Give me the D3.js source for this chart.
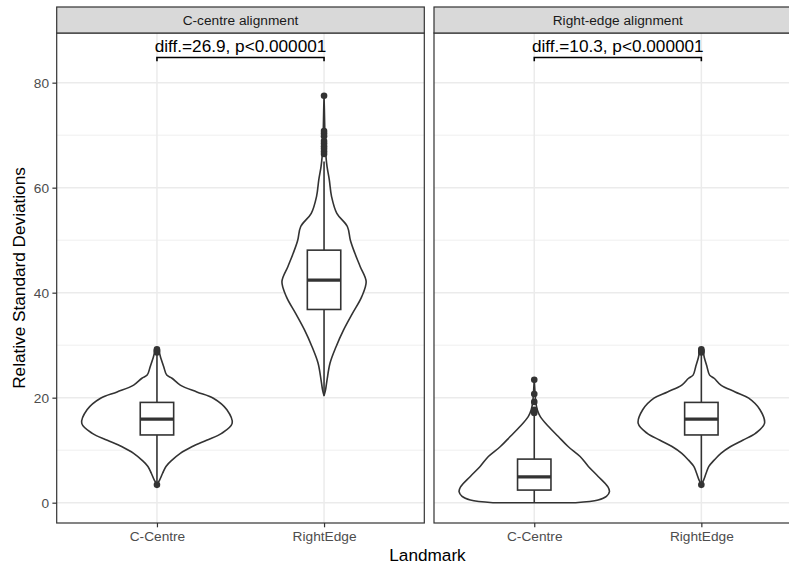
<!DOCTYPE html>
<html>
<head>
<meta charset="utf-8">
<script src="https://cdn.jsdelivr.net/npm/d3@7"></script>
<style>
  html, body { margin: 0; padding: 0; background: #ffffff; }
  svg { display: block; font-family: "Liberation Sans", Arial, Helvetica, sans-serif; }
</style>
</head>
<body>
<svg id="chart" width="789" height="566"></svg>
<script>
// Facet panels and the two landmarks compared inside each
const panelTitles = ["C-centre alignment", "Right-edge alignment"];
const landmarks = ["C-Centre", "RightEdge"];
const yTicks = [0, 20, 40, 60, 80];
const yMinorTicks = [10, 30, 50, 70];
const diffLabels = ["diff.=26.9, p<0.000001", "diff.=10.3, p<0.000001"];
const bracketValue = 84.8;

// Violin outlines: [value, relative density width]
const centreAlignCCentre = [
  [3.5, 0], [4.3, 0.035], [5.6, 0.075], [6.9, 0.12], [8.1, 0.2], [9.4, 0.31], [10.7, 0.47],
  [11.9, 0.66], [13.2, 0.86], [15.1, 1.0], [17.7, 0.93], [19.9, 0.75], [21.1, 0.53],
  [22.4, 0.31], [23.7, 0.2], [24.3, 0.13], [25.9, 0.09], [27.6, 0.05], [28.6, 0.03], [29.2, 0]
];
const centreAlignRightEdge = [
  [20.4, 0], [21.5, 0.02], [23.4, 0.04], [26.6, 0.08], [29.7, 0.16], [32.9, 0.26],
  [36.1, 0.38], [39.2, 0.5], [42.1, 0.56], [45.0, 0.48], [47.5, 0.41], [50.0, 0.35],
  [52.6, 0.31], [55.1, 0.17], [58.3, 0.1], [61.5, 0.07], [64.0, 0.04], [66.0, 0.025],
  [68.5, 0.015], [71.0, 0.01], [74.5, 0.005], [77.5, 0]
];
const rightAlignCCentre = [
  [0, 0.55], [0.5, 0.85], [1.2, 0.96], [2.1, 1.0], [3.0, 0.98], [5.0, 0.85], [6.9, 0.72],
  [8.8, 0.61], [10.7, 0.45], [12.6, 0.32], [14.5, 0.19], [16.4, 0.08], [17.7, 0.04],
  [19.2, 0.02], [21.0, 0.01], [23.4, 0]
];
const rightAlignRightEdge = [
  [3.5, 0], [4.3, 0.03], [5.6, 0.063], [6.9, 0.1], [8.1, 0.17], [9.4, 0.26], [10.7, 0.39],
  [11.9, 0.55], [13.2, 0.72], [15.1, 0.84], [17.7, 0.78], [19.9, 0.63], [21.1, 0.45],
  [22.4, 0.26], [23.7, 0.17], [24.3, 0.11], [25.9, 0.075], [27.6, 0.04], [28.6, 0.025], [29.2, 0]
];

// Box statistics per landmark: [lower whisker, Q1, median, Q3, upper whisker]
const centreAlignBoxes = [[3.8, 12.9, 15.9, 19.1, 28.3], [20.4, 36.8, 42.4, 48.1, 65.0]];
const rightAlignBoxes = [[0, 2.4, 4.9, 8.3, 17.0], [3.8, 12.9, 15.9, 19.1, 28.3]];

// Points beyond the whiskers
const centreAlignOutliers = [
  [3.4, 28.6, 28.8, 29.0, 29.2],
  [66.4, 66.9, 67.4, 67.9, 68.4, 68.9, 69.8, 70.3, 70.8, 77.5]
];
const rightAlignOutliers = [
  [17.1, 17.4, 17.7, 19.2, 20.7, 23.4],
  [3.4, 28.6, 28.8, 29.0, 29.2]
];

const panels = [
  { title: panelTitles[0], violins: [centreAlignCCentre, centreAlignRightEdge], boxes: centreAlignBoxes, outliers: centreAlignOutliers, label: diffLabels[0] },
  { title: panelTitles[1], violins: [rightAlignCCentre, rightAlignRightEdge], boxes: rightAlignBoxes, outliers: rightAlignOutliers, label: diffLabels[1] }
];

// Layout
const svg = d3.select("#chart");
const panelTop = 33, panelBottom = 523, stripTop = 7;
const panelWidth = 367.6;
const panelLefts = [56.7, 434];
const ink = "#333333";
const tickFont = 13.7, titleFont = 17.2;
const lw = 1.6;

const y = d3.scaleLinear().domain([-3.87, 89.46]).range([panelBottom, panelTop]);

panels.forEach((p, i) => {
  const x0 = panelLefts[i];
  const x = d3.scalePoint().domain(landmarks).range([x0, x0 + panelWidth]).padding(0.6);
  const step = x.step();
  const g = svg.append("g");

  // panel background and grid
  g.append("rect").attr("x", x0).attr("y", panelTop).attr("width", panelWidth)
    .attr("height", panelBottom - panelTop).attr("fill", "#ffffff");
  g.selectAll(".minor").data(yMinorTicks).join("line")
    .attr("x1", x0).attr("x2", x0 + panelWidth)
    .attr("y1", d => y(d)).attr("y2", d => y(d))
    .attr("stroke", "#ebebeb").attr("stroke-width", 0.8);
  g.selectAll(".major").data(yTicks).join("line")
    .attr("x1", x0).attr("x2", x0 + panelWidth)
    .attr("y1", d => y(d)).attr("y2", d => y(d))
    .attr("stroke", "#ebebeb").attr("stroke-width", 1.5);
  g.selectAll(".vgrid").data(landmarks).join("line")
    .attr("x1", d => x(d)).attr("x2", d => x(d))
    .attr("y1", panelTop).attr("y2", panelBottom)
    .attr("stroke", "#ebebeb").attr("stroke-width", 1.5);

  // violins
  const maxHalf = 0.45 * step;
  p.violins.forEach((prof, j) => {
    const cx = x(landmarks[j]);
    const area = d3.area()
      .y(d => y(d[0]))
      .x0(d => cx - d[1] * maxHalf)
      .x1(d => cx + d[1] * maxHalf)
      .curve(d3.curveCatmullRom.alpha(0.5));
    g.append("path").datum(prof).attr("d", area)
      .attr("fill", "#ffffff").attr("stroke", ink).attr("stroke-width", lw)
      .attr("stroke-linejoin", "round");
  });

  // boxplots
  const boxHalf = 0.1 * step;
  p.boxes.forEach((b, j) => {
    const cx = x(landmarks[j]);
    const [lo, q1, med, q3, hi] = b;
    g.append("line").attr("x1", cx).attr("x2", cx).attr("y1", y(lo)).attr("y2", y(hi))
      .attr("stroke", ink).attr("stroke-width", lw);
    g.append("rect").attr("x", cx - boxHalf).attr("width", 2 * boxHalf)
      .attr("y", y(q3)).attr("height", y(q1) - y(q3))
      .attr("fill", "#ffffff").attr("stroke", ink).attr("stroke-width", lw);
    g.append("line").attr("x1", cx - boxHalf).attr("x2", cx + boxHalf)
      .attr("y1", y(med)).attr("y2", y(med))
      .attr("stroke", ink).attr("stroke-width", 2 * lw);
    g.selectAll(null).data(p.outliers[j]).join("circle")
      .attr("cx", cx).attr("cy", d => y(d)).attr("r", 3.3).attr("fill", ink);
  });

  // significance bracket and label
  const xa = x(landmarks[0]), xb = x(landmarks[1]), yb = y(bracketValue);
  g.append("path")
    .attr("d", `M${xa},${yb + 3.7}V${yb}H${xb}V${yb + 3.7}`)
    .attr("fill", "none").attr("stroke", "#000000").attr("stroke-width", 1.6);
  g.append("text").attr("x", (xa + xb) / 2).attr("y", yb - 5.6)
    .attr("text-anchor", "middle").attr("font-size", titleFont).attr("fill", "#000000")
    .text(p.label);

  // panel border
  g.append("rect").attr("x", x0).attr("y", panelTop).attr("width", panelWidth)
    .attr("height", panelBottom - panelTop).attr("fill", "none")
    .attr("stroke", ink).attr("stroke-width", 1.2);

  // strip
  g.append("rect").attr("x", x0).attr("y", stripTop).attr("width", panelWidth)
    .attr("height", panelTop - stripTop).attr("fill", "#d9d9d9")
    .attr("stroke", ink).attr("stroke-width", 1.2);
  g.append("text").attr("x", x0 + panelWidth / 2).attr("y", (stripTop + panelTop) / 2 + 4.8)
    .attr("text-anchor", "middle").attr("font-size", tickFont).attr("fill", "#1a1a1a")
    .text(p.title);

  // x axis
  const xAxis = g.append("g").attr("transform", `translate(0,${panelBottom})`)
    .call(d3.axisBottom(x).tickSize(4.3).tickPadding(4.3));
  xAxis.select(".domain").remove();
  xAxis.selectAll(".tick line").attr("stroke", ink).attr("stroke-width", 1.2);
  xAxis.selectAll(".tick text").attr("fill", "#4d4d4d").attr("font-size", tickFont)
    .attr("font-family", "Liberation Sans, Arial, sans-serif");
});

// y axis on the first panel
const yAxis = svg.append("g").attr("transform", `translate(${panelLefts[0]},0)`)
  .call(d3.axisLeft(y).tickValues(yTicks).tickSize(4.3).tickPadding(3.3));
yAxis.select(".domain").remove();
yAxis.selectAll(".tick line").attr("stroke", ink).attr("stroke-width", 1.2);
yAxis.selectAll(".tick text").attr("fill", "#4d4d4d").attr("font-size", tickFont)
  .attr("font-family", "Liberation Sans, Arial, sans-serif");

// axis titles
svg.append("text").attr("x", 427.5).attr("y", 560.5)
  .attr("text-anchor", "middle").attr("font-size", titleFont).attr("fill", "#000000").text("Landmark");
svg.append("text").attr("transform", `translate(24.5,${(panelTop + panelBottom) / 2}) rotate(-90)`)
  .attr("text-anchor", "middle").attr("font-size", titleFont).attr("fill", "#000000")
  .text("Relative Standard Deviations");
</script>
</body>
</html>
